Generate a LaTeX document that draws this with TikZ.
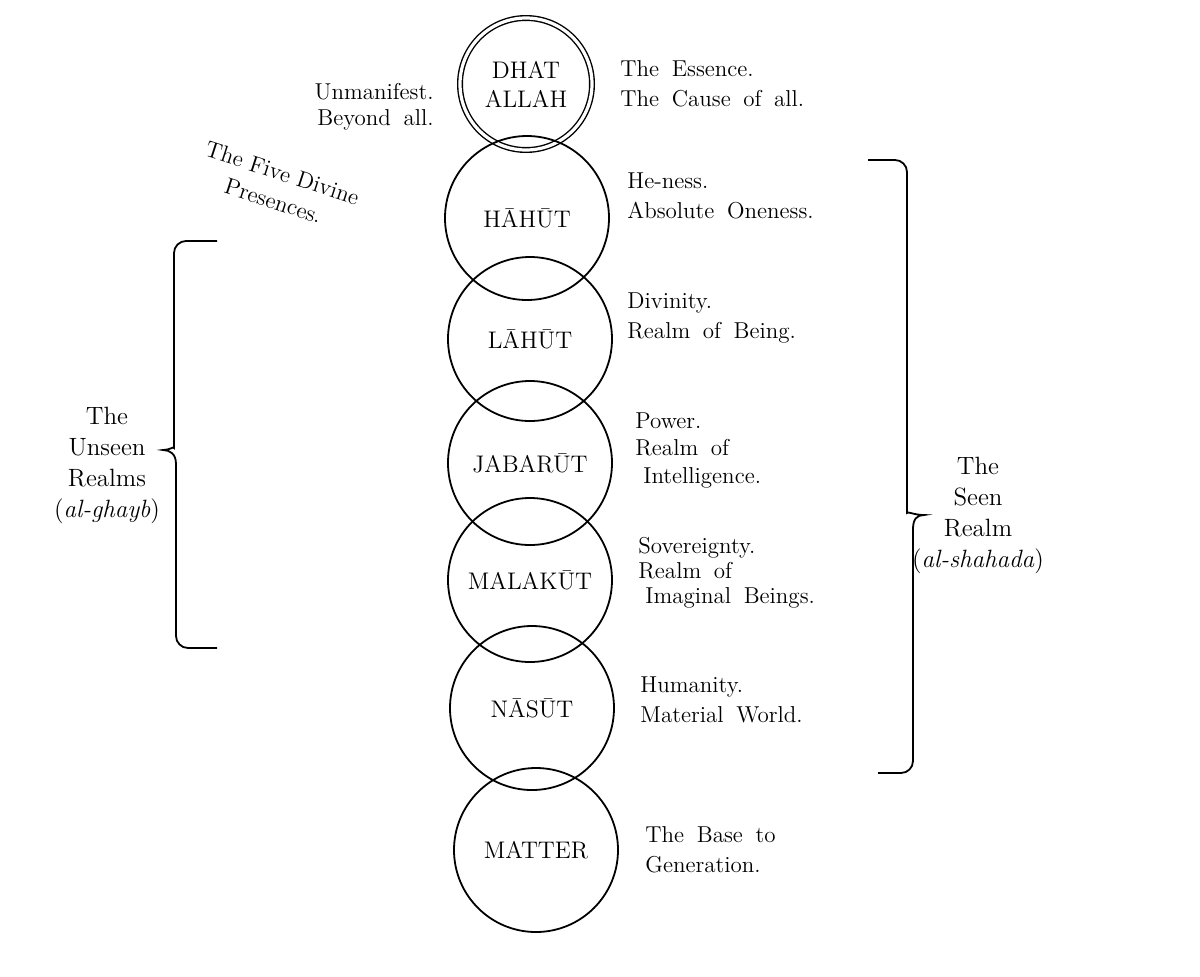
\documentclass[tikz,border=0pt]{standalone}
\newcommand\widespace{\spaceskip=0.55em plus 0.1em\relax}
\begin{document}
\begin{tikzpicture}[x=0.5pt,y=-0.5pt,
  ring/.style={draw, circle, line width=0.9pt, minimum size=82pt, inner sep=0pt,
    align=center, font=\fontsize{12}{14.5}\selectfont},
  gloss/.style={anchor=west, align=left, inner sep=0pt, font=\fontsize{11.5}{15}\selectfont\widespace},
  realm/.style={align=center, inner sep=0pt, font=\fontsize{12.5}{15.5}\selectfont},
  brace/.style={line width=0.9pt}]
\useasboundingbox (0,0) rectangle (1200,976);
% the chain of presences
\node[ring, double, double distance=1.6pt, line width=0.7pt, minimum size=66pt] (dhat) at (526,84) {DHAT\\ALLAH};
\node[ring] (hahut) at (527,218) {HĀHŪT};
\node[ring] (lahut) at (530,339) {LĀHŪT};
\node[ring] (jabarut) at (530,463) {JABARŪT};
\node[ring] (malakut) at (530,580) {MALAKŪT};
\node[ring] (nasut) at (532,708) {NĀSŪT};
\node[ring] (matter) at (536,850) {MATTER};
% glosses on the right
\node[gloss] (essence) at (620,84) {The Essence.\\The Cause of all.};
\node[gloss] (heness) at (627,196) {He-ness.\\Absolute Oneness.};
\node[gloss] (divinity) at (627,318) {Divinity.\\Realm of Being.};
\node[gloss, font=\fontsize{11.5}{13.75}\selectfont\widespace] (power) at (635,450) {Power.\\Realm of\\\hspace*{4pt}Intelligence.};
\node[gloss, font=\fontsize{11.5}{12.5}\selectfont\widespace] (sovereignty) at (638,573) {Sovereignty.\\Realm of\\\hspace*{3.5pt}Imaginal Beings.};
\node[gloss] (humanity) at (640,700) {Humanity.\\Material World.};
\node[gloss] (base) at (645,850) {The Base to\\Generation.};
% left side
\node[gloss, anchor=east, align=right, font=\fontsize{11.5}{13}\selectfont\widespace] (unmanifest) at (434,107) {Unmanifest.\\Beyond all.};
\node[realm, rotate=-18, font=\fontsize{11.5}{14.5}\selectfont] (presences) at (278,187) {The Five Divine\\Presences.};
\node[realm] (unseen) at (107,465) {The\\Unseen\\Realms\\(\textit{al-ghayb})};
\node[realm] (seen) at (978,515) {The\\Seen\\Realm\\(\textit{al-shahada})};
% braces
\draw[brace] (217,241) [rounded corners=6pt] -- (174,241) -- (174,436) [sharp corners]
  .. controls (174,446) and (170,450) .. (163,450)
  .. controls (170,450) and (176,454) .. (176,464) [rounded corners=6pt] -- (176,648) -- (217,648);
\draw[brace] (868,160) [rounded corners=6pt] -- (907,160) -- (907,501) [sharp corners]
  .. controls (907,511) and (914,515) .. (924,515)
  .. controls (917,515) and (913,519) .. (913,529) [rounded corners=6pt] -- (913,773) -- (878,773);
\end{tikzpicture}
\end{document}
